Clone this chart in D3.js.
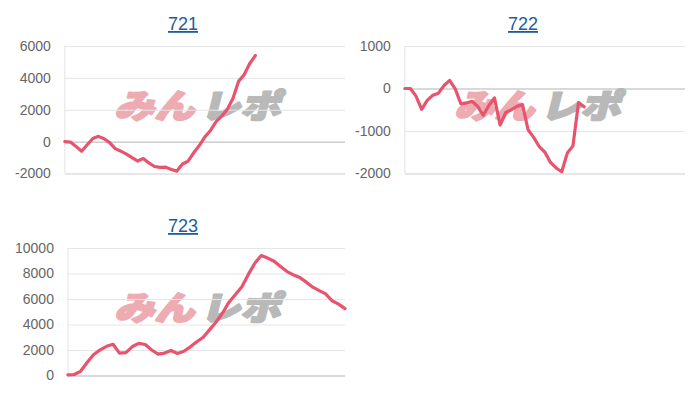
<!DOCTYPE html>
<html><head><meta charset="utf-8">
<script src="https://cdn.jsdelivr.net/npm/d3@7"></script>
<style>
html,body{margin:0;padding:0;background:#fff;}
svg{display:block;}
</style></head>
<body><svg id="c" width="700" height="400"></svg>
<script>
const titles = ["721", "722", "723"];
const values721 = [0, -30, -300, -600, -200, 200, 330, 180, -60, -440, -600, -780, -1000, -1220, -1060, -1340, -1560, -1620, -1600, -1750, -1850, -1400, -1230, -700, -250, 300, 700, 1250, 1600, 2030, 2700, 3780, 4200, 4900, 5400];
const values722 = [0, 0, -180, -490, -280, -160, -110, 70, 190, -10, -360, -340, -300, -420, -630, -400, -220, -860, -570, -500, -420, -380, -970, -1150, -1370, -1500, -1740, -1870, -1960, -1520, -1350, -330, -430];
const values723 = [50, 80, 350, 1040, 1650, 2010, 2290, 2450, 1750, 1800, 2270, 2520, 2430, 2000, 1680, 1760, 1960, 1730, 1900, 2250, 2650, 3000, 3600, 4200, 4900, 5750, 6350, 6960, 7930, 8800, 9410, 9210, 8960, 8550, 8150, 7890, 7680, 7320, 6930, 6660, 6400, 5860, 5600, 5250];
const ticks721 = [-2000, 0, 2000, 4000, 6000];
const ticks722 = [-2000, -1000, 0, 1000];
const ticks723 = [0, 2000, 4000, 6000, 8000, 10000];
const slotCounts = [51, 51, 44];
const watermarkParts = ["みん", "レポ"];

const panels = [
  {title: titles[0], values: values721, ticks: ticks721, slots: slotCounts[0], ox: 0, oy: 0},
  {title: titles[1], values: values722, ticks: ticks722, slots: slotCounts[1], ox: 340, oy: 0},
  {title: titles[2], values: values723, ticks: ticks723, slots: slotCounts[2], ox: 0, oy: 202}
];

const svg = d3.select("#c");
const FONT = "'Liberation Sans', Arial, sans-serif";

panels.forEach(p => {
  const g = svg.append("g").attr("transform", `translate(${p.ox},${p.oy})`);

  const meas = g.append("g");
  let maxW = 0;
  p.ticks.forEach(t => {
    const tt = meas.append("text").attr("font-family", FONT).attr("font-size", 14).text(String(t));
    maxW = Math.max(maxW, tt.node().getComputedTextLength());
  });
  meas.remove();

  const left = 15 + maxW + 14, right = 345, top = 46, bottom = 173.5;
  const y = d3.scaleLinear().domain(d3.extent(p.ticks)).range([bottom, top]);
  const x = d3.scaleLinear().domain([0, p.slots - 1]).range([left, right]);

  // watermark
  const wm = g.append("g").attr("transform", "translate(201,104) skewX(-14)");
  [[watermarkParts[0], -83, "#ecacb1"], [watermarkParts[1], 3, "#b9b9b9"]].forEach(([t, xx, c]) => {
    wm.append("text").attr("x", xx).attr("y", 0).attr("dominant-baseline", "central")
      .attr("font-family", "'Noto Sans CJK JP', sans-serif").attr("font-weight", 900).attr("font-size", 33)
      .attr("textLength", 80).attr("lengthAdjust", "spacingAndGlyphs")
      .attr("fill", c).attr("stroke", c).attr("stroke-width", 2.2).attr("stroke-linejoin", "round")
      .text(t);
  });

  // grid + y axis
  const yAxis = d3.axisLeft(y).tickValues(p.ticks).tickSize(-(right - left)).tickPadding(14).tickFormat(d => String(d));
  const ax = g.append("g").attr("transform", `translate(${left},0)`).call(yAxis);
  ax.select(".domain").remove();
  ax.selectAll(".tick line")
    .attr("stroke", d => d === 0 ? "#b3b3b3" : (d === y.domain()[0] ? "#cfcfcf" : "#e6e6e6"))
    .attr("stroke-width", 1);
  ax.selectAll(".tick text").attr("font-family", FONT).attr("font-size", 14).attr("fill", "#666");
  g.append("line").attr("x1", left).attr("x2", left).attr("y1", top).attr("y2", bottom)
    .attr("stroke", "#e3e3e3");

  // line
  const line = d3.line().x((d, i) => x(i)).y(d => y(d));
  g.append("path").datum(p.values).attr("d", line).attr("fill", "none")
    .attr("stroke", "#e8536d").attr("stroke-width", 3.2)
    .attr("stroke-linejoin", "round").attr("stroke-linecap", "round");

  // title
  g.append("text").attr("x", 183).attr("y", 30).attr("text-anchor", "middle")
    .attr("font-family", FONT).attr("font-size", 18).attr("fill", "#1d5c9c")
    .attr("text-decoration", "underline").text(p.title);
});
</script>
</body></html>
